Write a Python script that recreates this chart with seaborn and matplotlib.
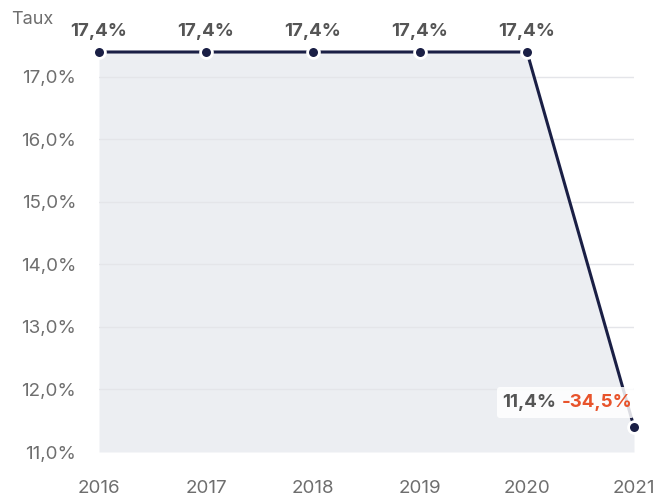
import matplotlib
matplotlib.use("Agg")
import matplotlib.pyplot as plt
from matplotlib.patches import FancyBboxPatch
from matplotlib.transforms import IdentityTransform
import seaborn as sns
import pandas as pd

years = [2016, 2017, 2018, 2019, 2020, 2021]
rates = [17.4, 17.4, 17.4, 17.4, 17.4, 11.4]
change_label = "-34,5%"
y_ticks = [11.0, 12.0, 13.0, 14.0, 15.0, 16.0, 17.0]

def fr_pct(v):
    return f"{v:.1f}".replace(".", ",") + "%"

sns.set_style("white")
plt.rcParams["font.family"] = ["Inter", "DejaVu Sans"]

NAVY = "#1a1f45"
FILL = "#eceef2"
GRID = "#e4e5e9"
TICK = "#6e6e6e"
LABEL = "#555555"
RED = "#e8532b"

df = pd.DataFrame({"year": years, "rate": rates})

DPI = 100
fig = plt.figure(figsize=(6.59, 4.97), dpi=DPI)
W, H = 659, 497
left, right = 99, 634
bottom_px, top_px = 452, 24
ax = fig.add_axes([left / W, (H - bottom_px) / H, (right - left) / W, (bottom_px - top_px) / H])
ymin = 11.0
ymax = ymin + (bottom_px - top_px) / 62.5
ax.set_xlim(years[0], years[-1])
ax.set_ylim(ymin, ymax)

ax.fill_between(df["year"], df["rate"], ymin, color=FILL, lw=0, zorder=1)
for t in y_ticks[1:]:
    ax.axhline(t, color=GRID, lw=1.0, zorder=1.5)

sns.lineplot(data=df, x="year", y="rate", ax=ax, color=NAVY, lw=2.2,
             marker="o", markersize=8.5, markerfacecolor=NAVY,
             markeredgecolor="white", markeredgewidth=2.0, zorder=3, clip_on=False)

for x, v in zip(years[:-1], rates[:-1]):
    ax.annotate(fr_pct(v), (x, v), xytext=(0, 11.5), textcoords="offset points",
                ha="center", va="baseline", fontsize=13.5, fontweight="bold", color=LABEL, zorder=5)

# last point: value and change on a light box, up-left of the marker
px, py = ax.transData.transform((years[-1], rates[-1]))
box = FancyBboxPatch((px - 137, py + 9), 137, 31,
                     boxstyle="round,pad=0,rounding_size=3",
                     transform=IdentityTransform(), fc="white", ec="none", alpha=0.85, zorder=4)
ax.add_patch(box)
ax.annotate(change_label, (years[-1], rates[-1]), xytext=(-1, 24 * 72 / DPI), textcoords="offset points",
            ha="right", va="center", fontsize=13.5, fontweight="bold", color=RED, zorder=5)
ax.annotate(fr_pct(rates[-1]), (years[-1], rates[-1]), xytext=(-78 * 72 / DPI, 24 * 72 / DPI),
            textcoords="offset points",
            ha="right", va="center", fontsize=13.5, fontweight="bold", color=LABEL, zorder=5)

ax.set_yticks(y_ticks)
ax.set_yticklabels([fr_pct(t) for t in y_ticks])
ax.set_xticks(years)
ax.set_xticklabels([str(y) for y in years])
ax.tick_params(axis="both", length=0, labelsize=13.5, labelcolor=TICK)
ax.tick_params(axis="y", pad=16.5)
ax.tick_params(axis="x", pad=20.5)
ax.set_xlabel("")
ax.set_ylabel("")
for s in ax.spines.values():
    s.set_visible(False)

fig.text(11 / W, 1 - 19 / H, "Taux", ha="left", va="center", fontsize=13, color=TICK)

fig.savefig("out.png", dpi=DPI)
